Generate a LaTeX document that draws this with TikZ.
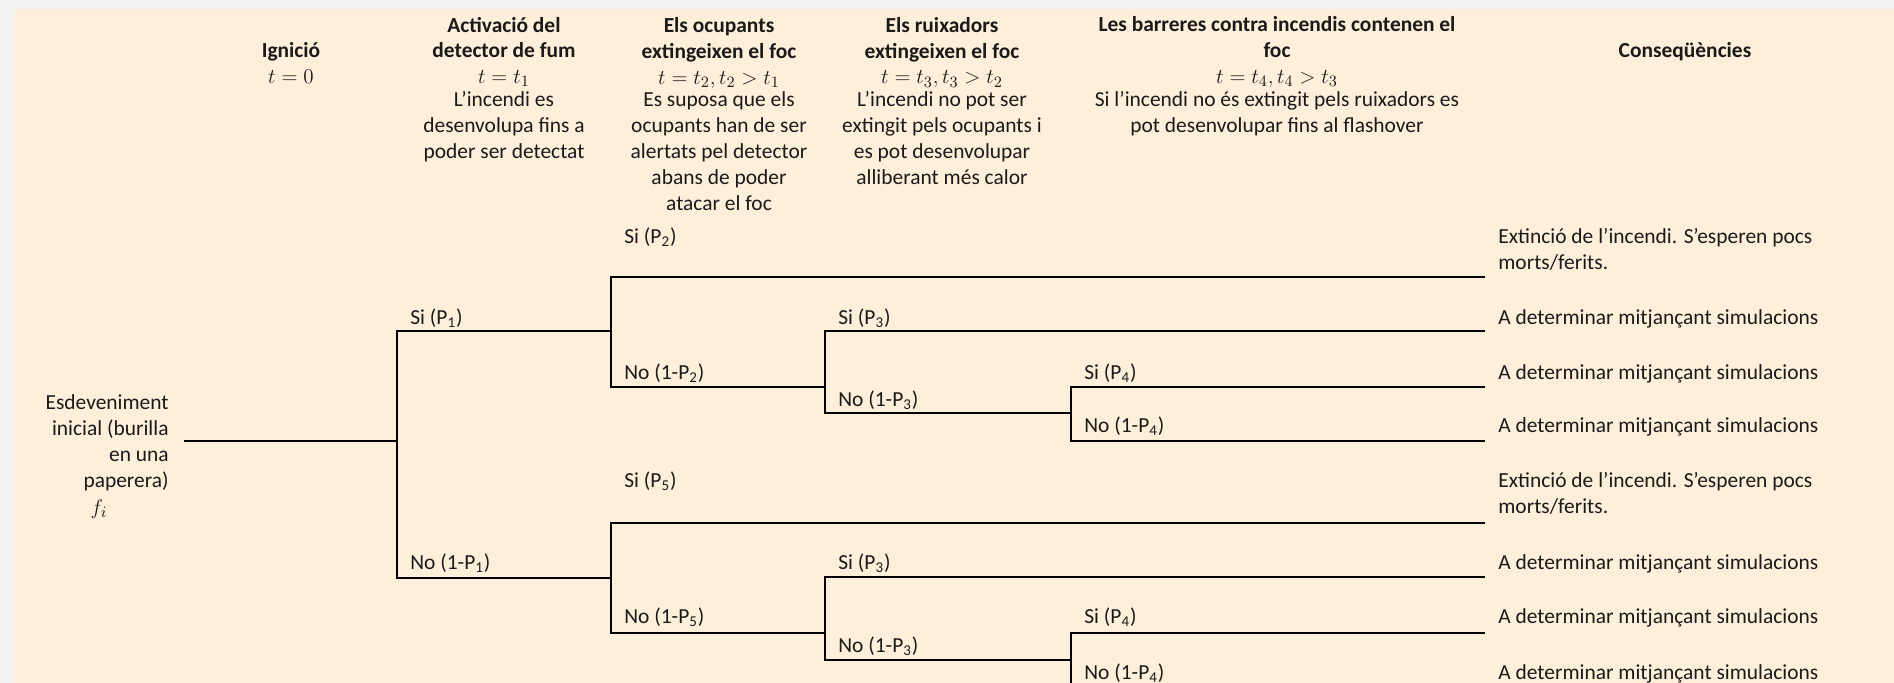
\documentclass[tikz,border=0pt]{standalone}
\usepackage{fontspec}
\setmainfont{Carlito}
\definecolor{fons}{HTML}{FEEFDA}
\definecolor{vora}{HTML}{F3F3F3}
\definecolor{tinta}{HTML}{1A1A1A}
\begin{document}
\begin{tikzpicture}[x=0.02cm,y=-0.02cm,
	branca/.style={line width=1.5pt, black},
	capcal/.style={align=center, anchor=base, inner sep=0pt, text=tinta, font=\fontsize{12.2}{14.74}\selectfont},
	etiq/.style={anchor=base west, inner sep=0pt, text=tinta, font=\fontsize{12.2}{14.74}\selectfont},
	conseq/.style={anchor=base west, align=left, inner sep=0pt, text=tinta, font=\fontsize{12.2}{14.74}\selectfont}]
		\useasboundingbox (0,0) rectangle (1894,683);
		\fill [vora] (0,0) rectangle (1894,683);
		\fill [fons] (15,9) rectangle (1894,683);
		% capcaleres (base = ultima linia)
		\node [capcal] (ign) at (291,83) {\textbf{Ignició}\\$t=0$};
		\node [capcal] (det) at (504,158) {\textbf{Activació del}\\\textbf{detector de fum}\\$t=t_1$\\[-2pt]L’incendi es\\desenvolupa fins a\\poder ser detectat};
		\node [capcal] (ocu) at (719,210) {\textbf{Els ocupants}\\\textbf{extingeixen el foc}\\$t=t_2, t_2>t_1$\\[-2pt]Es suposa que els\\ocupants han de ser\\alertats pel detector\\abans de poder\\atacar el foc};
		\node [capcal] (rui) at (942,184) {\textbf{Els ruixadors}\\\textbf{extingeixen el foc}\\$t=t_3, t_3>t_2$\\[-2pt]L’incendi no pot ser\\extingit pels ocupants i\\es pot desenvolupar\\alliberant més calor};
		\node [capcal] (bar) at (1277,132) {\textbf{Les barreres contra incendis contenen el}\\\textbf{foc}\\$t=t_4, t_4>t_3$\\[-2pt]Si l’incendi no és extingit pels ruixadors es\\pot desenvolupar fins al flashover};
		\node [capcal] (con) at (1685,57) {\textbf{Conseqüències}};
		% esdeveniment inicial
		\node [capcal, align=right, anchor=base east] (ini) at (169,487) {Esdeveniment\\inicial (burilla\\en una\\paperera)};
		\node [capcal] (fi) at (99,514) {$f_i$};
		% punts de l'arbre
		\coordinate (e0) at (184,441);
		\coordinate (j1) at (397,441);
		\coordinate (j2) at (611,331);
		\coordinate (j2b) at (611,578);
		\coordinate (j3) at (825,387);
		\coordinate (j3b) at (825,633);
		\coordinate (j4) at (1071,413);
		\coordinate (j4b) at (1071,660);
		\coordinate (c1) at (1485,277);
		\coordinate (c2) at (1485,331);
		\coordinate (c3) at (1485,387);
		\coordinate (c4) at (1485,441);
		\coordinate (c5) at (1485,523);
		\coordinate (c6) at (1485,577);
		\coordinate (c7) at (1485,633);
		\coordinate (c8) at (1485,689);
		\draw [branca] (e0) -- (j1);
		\draw [branca] (j1) |- (j2);
		\draw [branca] (j1) |- (j2b);
		\draw [branca] (j2) |- (c1);
		\draw [branca] (j2) |- (j3);
		\draw [branca] (j3) |- (c2);
		\draw [branca] (j3) |- (j4);
		\draw [branca] (j4) |- (c3);
		\draw [branca] (j4) |- (c4);
		\draw [branca] (j2b) |- (c5);
		\draw [branca] (j2b) |- (j3b);
		\draw [branca] (j3b) |- (c6);
		\draw [branca] (j3b) |- (j4b);
		\draw [branca] (j4b) |- (c7);
		\draw [branca] (j4b) |- (c8);
		% etiquetes de les branques
		\node [etiq] (s1) at (410,324) {Si (P\textsubscript{1})};
		\node [etiq] (n1) at (410,569) {No (1-P\textsubscript{1})};
		\node [etiq] (s2) at (624,243) {Si (P\textsubscript{2})};
		\node [etiq] (n2) at (624,379) {No (1-P\textsubscript{2})};
		\node [etiq] (s3) at (838,324) {Si (P\textsubscript{3})};
		\node [etiq] (n3) at (838,406) {No (1-P\textsubscript{3})};
		\node [etiq] (s4) at (1084,379) {Si (P\textsubscript{4})};
		\node [etiq] (n4) at (1084,432) {No (1-P\textsubscript{4})};
		\node [etiq] (s5) at (624,487) {Si (P\textsubscript{5})};
		\node [etiq] (n5) at (624,623) {No (1-P\textsubscript{5})};
		\node [etiq] (s3b) at (838,569) {Si (P\textsubscript{3})};
		\node [etiq] (n3b) at (838,652) {No (1-P\textsubscript{3})};
		\node [etiq] (s4b) at (1084,623) {Si (P\textsubscript{4})};
		\node [etiq] (n4b) at (1084,679) {No (1-P\textsubscript{4})};
		% consequencies
		\node [conseq] (k1) at (1498,269) {Extinció de l’incendi. S’esperen pocs\\morts/ferits.};
		\node [conseq] (k2) at (1498,324) {A determinar mitjançant simulacions};
		\node [conseq] (k3) at (1498,379) {A determinar mitjançant simulacions};
		\node [conseq] (k4) at (1498,432) {A determinar mitjançant simulacions};
		\node [conseq] (k5) at (1498,513) {Extinció de l’incendi. S’esperen pocs\\morts/ferits.};
		\node [conseq] (k6) at (1498,569) {A determinar mitjançant simulacions};
		\node [conseq] (k7) at (1498,623) {A determinar mitjançant simulacions};
		\node [conseq] (k8) at (1498,679) {A determinar mitjançant simulacions};
	\end{tikzpicture}
\end{document}
